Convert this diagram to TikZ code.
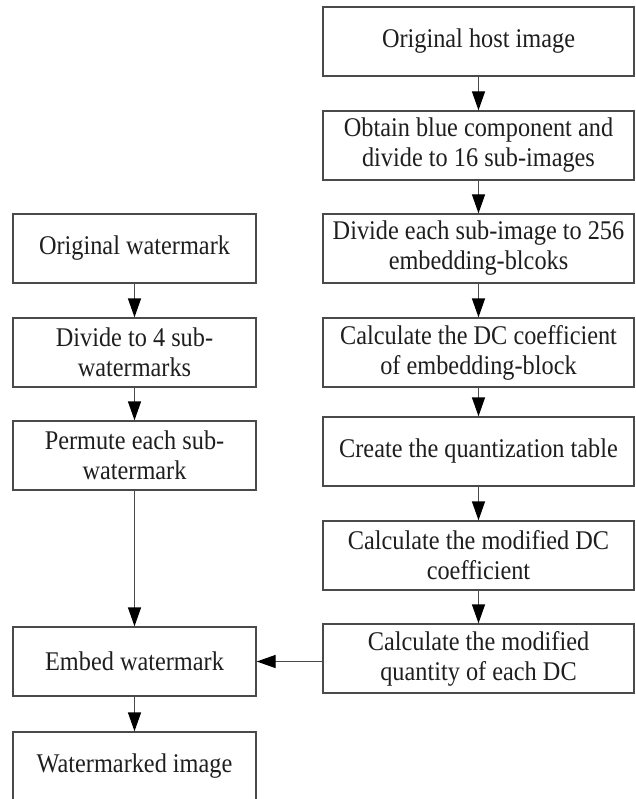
\documentclass[tikz,border=0pt]{standalone}
\usepackage{fontspec}
\setmainfont[FakeStretch=0.9]{Liberation Serif}
\usetikzlibrary{arrows.meta}
\definecolor{boxline}{HTML}{4A4A4A}
\definecolor{txt}{HTML}{1E1E1E}
\tikzset{
  flowbox/.style={draw=boxline, line width=1.3pt, rectangle, minimum height=69pt,
    inner sep=2pt, align=center, text=txt,
    font=\fontsize{27}{30}\selectfont},
  rbox/.style={flowbox, minimum width=311pt},
  lbox/.style={flowbox, minimum width=243pt},
  flowarrow/.style={draw=boxline, line width=1.3pt,
    -{Triangle[length=19pt, width=13pt, fill=black, color=black]}}
}
\begin{document}
\begin{tikzpicture}[x=1pt, y=-1pt]
\useasboundingbox (0,0) rectangle (635,799);
% right column
\node[rbox] (host) at (478.5,41.5) {Original host image};
\node[rbox] (obtain) at (478.5,145.5) {Obtain blue component and\\divide to 16 sub-images};
\node[rbox] (divideeach) at (478.5,248.5) {Divide each sub-image to 256\\embedding-blcoks};
\node[rbox] (dc) at (478.5,352.5) {Calculate the DC coefficient\\of embedding-block};
\node[rbox] (create) at (478.5,451.5) {Create the quantization table};
\node[rbox] (moddc) at (478.5,555.5) {Calculate the modified DC\\coefficient};
\node[rbox] (quantity) at (478.5,658.5) {Calculate the modified\\quantity of each DC};
% left column
\node[lbox] (ow) at (134.5,248.5) {Original watermark};
\node[lbox] (div4) at (134.5,352.5) {Divide to 4 sub-\\watermarks};
\node[lbox] (permute) at (134.5,455.5) {Permute each sub-\\watermark};
\node[lbox] (embed) at (134.5,661.5) {Embed watermark};
\node[lbox] (wm) at (134.5,766.5) {Watermarked image};
% arrows
\draw[flowarrow] (host) -- (obtain);
\draw[flowarrow] (obtain) -- (divideeach);
\draw[flowarrow] (divideeach) -- (dc);
\draw[flowarrow] (dc) -- (create);
\draw[flowarrow] (create) -- (moddc);
\draw[flowarrow] (moddc) -- (quantity);
\draw[flowarrow] (ow) -- (div4);
\draw[flowarrow] (div4) -- (permute);
\draw[flowarrow] (permute) -- (embed);
\draw[flowarrow] (embed) -- (wm);
\draw[flowarrow] (quantity.west |- embed.east) -- (embed.east);
\end{tikzpicture}
\end{document}
